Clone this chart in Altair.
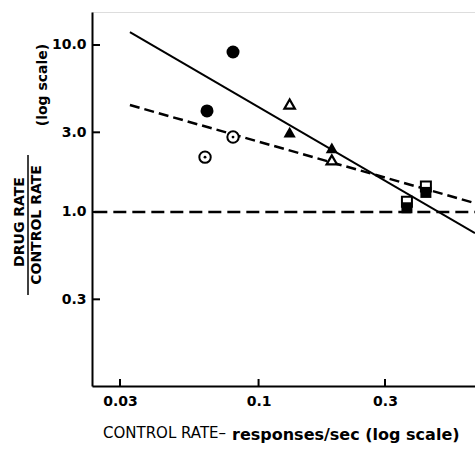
import altair as alt
import pandas as pd

# ---- data ----
x_ticks = [0.03, 0.1, 0.3]
y_ticks = [0.3, 1.0, 3.0, 10.0]

filled_circle_x = [0.0801, 0.0639]
filled_circle_y = [9.08, 4.03]
dotted_circle_x = [0.0801, 0.0628]
dotted_circle_y = [2.81, 2.13]
open_tri_x = [0.131, 0.189]
open_tri_y = [4.43, 2.05]
filled_tri_x = [0.131, 0.189]
filled_tri_y = [3.01, 2.42]
open_sq_x = [0.363, 0.428]
open_sq_y = [1.15, 1.42]
filled_sq_x = [0.363, 0.428]
filled_sq_y = [1.06, 1.31]

solid_x = [0.0327, 0.6558]
solid_y = [11.96, 0.748]
dash_x = [0.0327, 0.6558]
dash_y = [4.37, 1.13]
unity_x = [0.024, 0.6558]
unity_y = [1.0, 1.0]

W, H = 383, 374
xs = alt.Scale(type="log", domain=[0.02352, 0.6558], nice=False)
ys = alt.Scale(type="log", domain=[0.0908, 15.76], nice=False)
FONT = "DejaVu Sans"

xaxis = alt.Axis(values=x_ticks, format="~g", title=None, ticks=False, grid=False,
                 domainWidth=2, domainColor="black", labelFont=FONT, labelFontWeight="bold",
                 labelFontSize=14, labelPadding=8, labelColor="black", labelFlush=False)
yaxis = alt.Axis(values=y_ticks, format=".1f", title=None, ticks=False, grid=False,
                 domainWidth=2, domainColor="black", labelFont=FONT, labelFontWeight="bold",
                 labelFontSize=14, labelPadding=6, labelColor="black", labelFlush=False)


def df(xv, yv):
    return pd.DataFrame({"x": xv, "y": yv})


def enc(chart):
    return chart.encode(
        x=alt.X("x:Q", scale=xs, axis=xaxis),
        y=alt.Y("y:Q", scale=ys, axis=yaxis),
    )


solid = enc(alt.Chart(df(solid_x, solid_y)).mark_line(color="black", strokeWidth=2))
dashed = enc(alt.Chart(df(dash_x, dash_y)).mark_line(color="black", strokeWidth=2.5, strokeDash=[10, 5]))
unity = enc(alt.Chart(df(unity_x, unity_y)).mark_line(color="black", strokeWidth=2.5, strokeDash=[13, 6]))

fc = enc(alt.Chart(df(filled_circle_x, filled_circle_y)).mark_point(
    shape="circle", filled=True, color="black", size=169, opacity=1))
dc = enc(alt.Chart(df(dotted_circle_x, dotted_circle_y)).mark_point(
    shape="circle", filled=False, color="black", fill="white", fillOpacity=1, strokeWidth=2, size=130, opacity=1))
dc_dot = enc(alt.Chart(df(dotted_circle_x, dotted_circle_y)).mark_point(
    shape="circle", filled=True, color="black", size=8, opacity=1))
ot = enc(alt.Chart(df(open_tri_x, open_tri_y)).mark_point(
    shape="triangle-up", filled=False, color="black", fill="white", fillOpacity=1, strokeWidth=2.2, size=110, opacity=1))
ft = enc(alt.Chart(df(filled_tri_x, filled_tri_y)).mark_point(
    shape="triangle-up", filled=True, color="black", size=150, opacity=1))
osq = enc(alt.Chart(df(open_sq_x, open_sq_y)).mark_point(
    shape="square", filled=False, color="black", fill="white", fillOpacity=1, strokeWidth=2, size=100, opacity=1))
fsq = enc(alt.Chart(df(filled_sq_x, filled_sq_y)).mark_point(
    shape="square", filled=True, color="black", size=121, opacity=1))

ytk = alt.Chart(pd.DataFrame({"y": y_ticks})).mark_rule(color="black", strokeWidth=2).encode(
    y=alt.Y("y:Q", scale=ys, axis=yaxis), x=alt.value(0), x2=alt.value(8))
xtk = alt.Chart(pd.DataFrame({"x": x_ticks})).mark_rule(color="black", strokeWidth=2).encode(
    x=alt.X("x:Q", scale=xs, axis=xaxis), y=alt.value(H), y2=alt.value(H - 7))

one = pd.DataFrame({"a": [0]})


def label(text, x, y, angle=0, align="center", size=14, weight="bold"):
    return alt.Chart(one).mark_text(
        text=text, font=FONT, fontSize=size, fontWeight=weight, angle=angle,
        align=align, baseline="middle", color="black"
    ).encode(x=alt.value(x), y=alt.value(y))


t1 = label("DRUG RATE", -72, 210, angle=270, size=14)
t2 = label("CONTROL RATE", -55, 213, angle=270, size=14)
t3 = label("(log scale)", -49, 73, angle=270, size=14)
bar = alt.Chart(one).mark_rule(color="black", strokeWidth=1.5).encode(
    x=alt.value(-64), y=alt.value(143), y2=alt.value(283))
t4 = label("CONTROL RATE–", 11, 421, align="left", size=15, weight="normal")
t5 = label("responses/sec (log scale)", 140, 423, align="left", size=16, weight="bold")

chart = alt.layer(
    unity, dashed, solid, ytk, xtk, fc, dc, dc_dot, ot, ft, osq, fsq,
    t1, t2, t3, bar, t4, t5
).properties(
    width=W, height=H,
    autosize=alt.AutoSizeParams(type="none"),
    padding={"left": 92, "top": 12, "right": 0, "bottom": 64},
).configure_view(stroke=None).configure(background="white")

chart.save("out.html", embed_options={"renderer": "svg", "actions": False})
